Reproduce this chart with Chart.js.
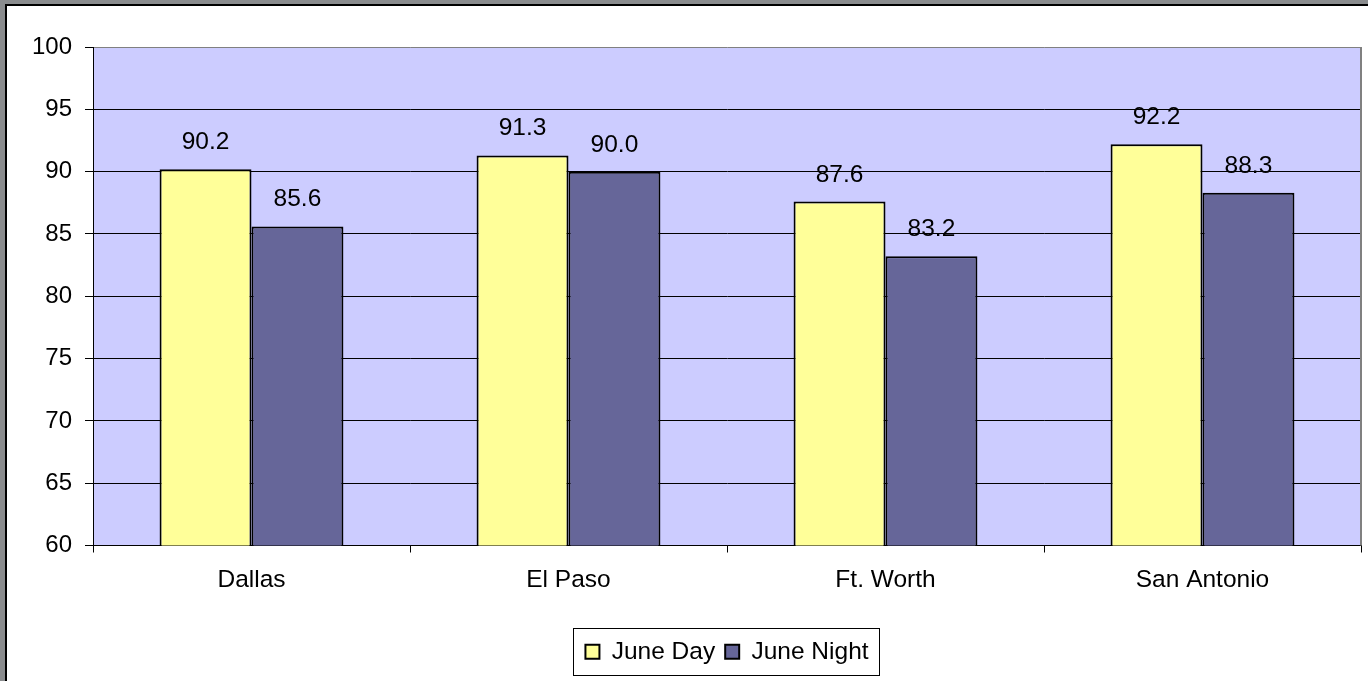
<!DOCTYPE html>
<html>
<head>
<meta charset="utf-8">
<script src="https://cdn.jsdelivr.net/npm/chart.js@4.4.1/dist/chart.umd.min.js"></script>
<style>
  body { margin:0; background:#8a8c8e; overflow:hidden; }
  #frame { position:absolute; left:5px; top:4px; width:1361px; height:675px; background:#fff;
           border-left:2px solid #000; border-top:2px solid #000; }
  #c { position:absolute; left:0; top:0; }
</style>
</head>
<body>
<div id="frame"></div>
<canvas id="c" width="1368" height="681"></canvas>
<script>
const cities = ['Dallas', 'El Paso', 'Ft. Worth', 'San Antonio'];
const juneDay = [90.2, 91.3, 87.6, 92.2];
const juneNight = [85.6, 90.0, 83.2, 88.3];
const yMin = 60, yMax = 100, yStep = 5;

const FONT = 'Liberation Sans, Arial, sans-serif';

// plot background + right border + legend frame + value labels
const decor = {
    id: 'decor',
    beforeDraw(chart) {
        const a = chart.chartArea, ctx = chart.ctx;
        ctx.save();
        ctx.fillStyle = '#CCCCFF';
        ctx.fillRect(a.left, a.top, a.right - a.left, a.bottom - a.top);
        ctx.restore();
    },
    afterDraw(chart) {
        const a = chart.chartArea, ctx = chart.ctx;
        ctx.save();
        ctx.strokeStyle = '#808080';
        ctx.lineWidth = 2;
        ctx.beginPath();
        ctx.moveTo(Math.round(a.right), a.top);
        ctx.lineTo(Math.round(a.right), a.bottom);
        ctx.stroke();

        // value labels
        ctx.fillStyle = '#000';
        ctx.font = '24.5px ' + FONT;
        ctx.textAlign = 'center';
        ctx.textBaseline = 'alphabetic';
        chart.data.datasets.forEach((ds, i) => {
            chart.getDatasetMeta(i).data.forEach((bar, j) => {
                ctx.fillText(ds.data[j].toFixed(1), bar.x, bar.y - 20);
            });
        });

        // legend frame
        const hb = chart.legend.legendHitBoxes;
        if (hb && hb.length) {
            const l = hb[0].left - 12;
            const r = hb[hb.length - 1].left + hb[hb.length - 1].width + 11;
            const t = hb[0].top - 12;
            const b = hb[0].top + hb[0].height + 10;
            ctx.strokeStyle = '#000';
            ctx.lineWidth = 1;
            ctx.strokeRect(Math.round(l) + 0.5, Math.round(t) + 0.5, Math.round(r - l), Math.round(b - t));
        }
        ctx.restore();
    }
};

new Chart(document.getElementById('c'), {
    type: 'bar',
    data: {
        labels: cities,
        datasets: [
            { label: 'June Day', data: juneDay, backgroundColor: '#FFFF99', borderColor: '#000', borderWidth: 2 },
            { label: 'June Night', data: juneNight, backgroundColor: '#666699', borderColor: '#000', borderWidth: 2 }
        ]
    },
    options: {
        responsive: false,
        animation: false,
        layout: { padding: { left: 0, top: 47, right: 7, bottom: 7 } },
        datasets: { bar: { categoryPercentage: 0.58, barPercentage: 1 } },
        scales: {
            x: {
                offset: true,
                grid: { drawOnChartArea: false, drawTicks: true, tickLength: 7, color: '#000', offset: true },
                border: { color: '#000', width: 1 },
                ticks: { color: '#000', font: { family: FONT, size: 24.5 }, padding: 13 },
                afterFit(s) { s.height = 84; }
            },
            y: {
                min: yMin, max: yMax,
                grid: {
                    color: ctx => ctx.tick && ctx.tick.value === yMax ? '#808080' : '#000',
                    tickColor: '#000', tickLength: 8, lineWidth: 1
                },
                border: { color: '#000', width: 1 },
                ticks: { stepSize: yStep, color: '#000', font: { family: FONT, size: 24 }, padding: 13 },
                afterFit(s) { s.width = 93; }
            }
        },
        plugins: {
            legend: {
                position: 'bottom',
                fullSize: false,
                labels: { color: '#000', font: { family: FONT, size: 24.5 }, boxWidth: 14, boxHeight: 14, padding: 10 }
            },
            tooltip: { enabled: false }
        }
    },
    plugins: [decor]
});
</script>
</body>
</html>
